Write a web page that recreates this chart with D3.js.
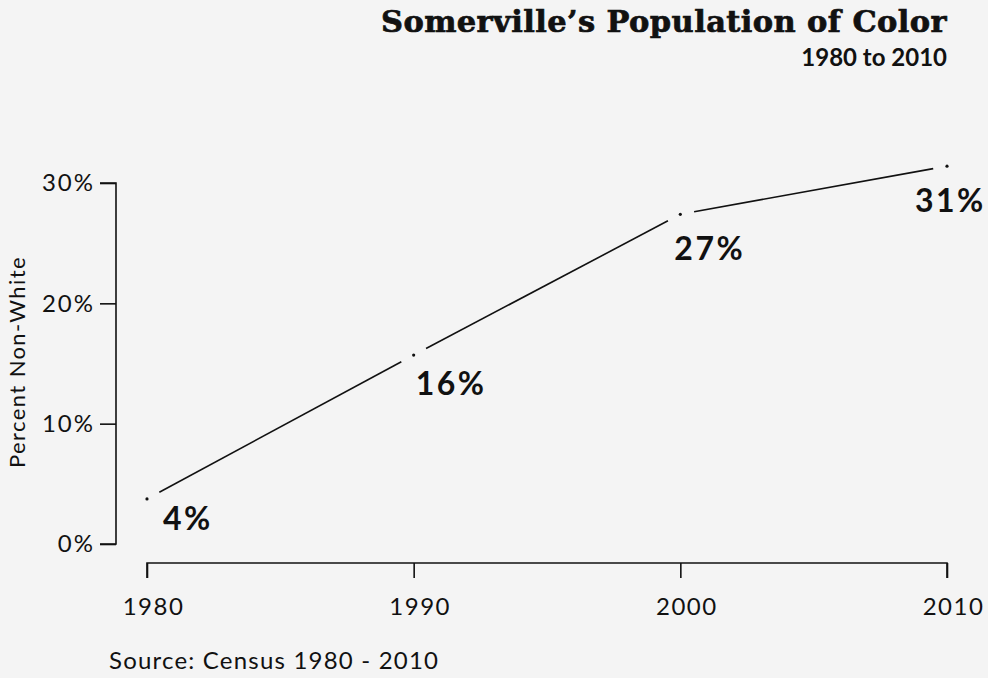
<!DOCTYPE html>
<html><head><meta charset="utf-8">
<script src="https://cdn.jsdelivr.net/npm/d3@7"></script>
<style>
html,body{margin:0;padding:0;background:#f4f4f4;}
svg{display:block;}
</style></head>
<body>
<script>
// ---- data ----
const years = [1980, 1990, 2000, 2010];
const pctNonWhite = [3.75, 15.7, 27.4, 31.4];
const pointLabels = ["4%", "16%", "27%", "31%"];
const yTicks = [0, 10, 20, 30];
const xTicks = [1980, 1990, 2000, 2010];
const title = "Somerville\u2019s Population of Color";
const subtitle = "1980 to 2010";
const yLabel = "Percent Non-White";
const source = "Source: Census 1980 - 2010";

// ---- style (label offsets in px) ----
const labelDx = [16, 2, -6, -32];
const labelDy = [31, 40, 46, 46];

const W = 988, H = 678;
const font = "Lato, 'Open Sans', sans-serif";
const svg = d3.select("body").append("svg").attr("width", W).attr("height", H);
svg.append("rect").attr("width", W).attr("height", H).attr("fill", "#f4f4f4");

const x = d3.scaleLinear().domain([1980, 2010]).range([147, 947]);
const y = d3.scaleLinear().domain([0, 30]).range([544, 183]);

// y axis
const yAxis = svg.append("g").attr("transform", "translate(116,0)")
  .call(d3.axisLeft(y).tickValues(yTicks).tickFormat(d => d + "%").tickSize(16).tickPadding(5));
yAxis.select(".domain").attr("d", `M-16,${y(30)}H0V${y(0)}H-16`);
yAxis.selectAll("path,line").attr("stroke", "#111").attr("stroke-width", 1.6);
yAxis.selectAll("text").attr("font-family", font).attr("font-size", 24)
  .attr("letter-spacing", 2).attr("fill", "#111");

// x axis
const xAxis = svg.append("g").attr("transform", "translate(0,563)")
  .call(d3.axisBottom(x).tickValues(xTicks).tickFormat(d3.format("d")).tickSize(15).tickPadding(20));
xAxis.select(".domain").attr("d", `M${x(1980)},15V0H${x(2010)}V15`);
xAxis.selectAll("path,line").attr("stroke", "#111").attr("stroke-width", 1.6);
xAxis.selectAll("text").attr("font-family", font).attr("font-size", 24)
  .attr("letter-spacing", 1.5).attr("fill", "#111").attr("dx", 6);

// line with gaps (type "b")
const pts = years.map((yr, i) => [x(yr), y(pctNonWhite[i])]);
const gap = 14;
for (let i = 0; i < pts.length - 1; i++) {
  const [x0, y0] = pts[i], [x1, y1] = pts[i + 1];
  const len = Math.hypot(x1 - x0, y1 - y0);
  const ux = (x1 - x0) / len, uy = (y1 - y0) / len;
  svg.append("line")
    .attr("x1", x0 + ux * gap).attr("y1", y0 + uy * gap)
    .attr("x2", x1 - ux * gap).attr("y2", y1 - uy * gap)
    .attr("stroke", "#111").attr("stroke-width", 1.6);
}
svg.selectAll("circle.pt").data(pts).join("circle").attr("class", "pt")
  .attr("cx", d => d[0]).attr("cy", d => d[1]).attr("r", 1.6).attr("fill", "#111");

// point labels
svg.selectAll("text.pl").data(pointLabels).join("text").attr("class", "pl")
  .attr("x", (d, i) => pts[i][0] + labelDx[i])
  .attr("y", (d, i) => pts[i][1] + labelDy[i])
  .attr("font-family", font).attr("font-weight", "bold").attr("font-size", 32)
  .attr("letter-spacing", 2.5).attr("fill", "#111").text(d => d);

// y label
svg.append("text").attr("transform", "translate(25,362) rotate(-90)")
  .attr("text-anchor", "middle").attr("font-family", font).attr("font-size", 22)
  .attr("letter-spacing", 1.4).attr("fill", "#111").text(yLabel);

// title / subtitle
svg.append("text").attr("x", 947).attr("y", 32).attr("text-anchor", "end")
  .attr("font-family", "'DejaVu Serif', serif").attr("font-weight", "bold").attr("font-size", 30.5)
  .attr("letter-spacing", 0.4).attr("fill", "#111")
  .attr("stroke", "#111").attr("stroke-width", 0.7).text(title);
svg.append("text").attr("x", 947).attr("y", 66).attr("text-anchor", "end")
  .attr("font-family", font).attr("font-weight", "bold").attr("font-size", 24)
  .attr("fill", "#111").text(subtitle);

// source
svg.append("text").attr("x", 109).attr("y", 669)
  .attr("font-family", font).attr("font-size", 24).attr("letter-spacing", 1.2)
  .attr("fill", "#111").text(source);
</script>
</body></html>
